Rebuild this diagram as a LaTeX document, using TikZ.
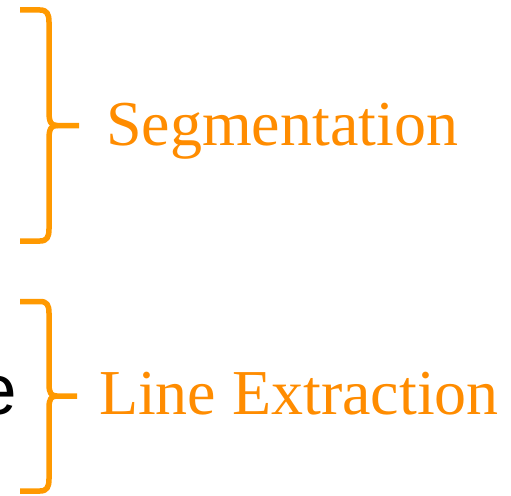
\documentclass[tikz,border=0pt]{standalone}
\usepackage{fontspec}
\setmainfont{Liberation Serif}
\newfontfamily\arialfont{Liberation Sans}
\definecolor{braceorange}{HTML}{FF9900}
\definecolor{textorange}{HTML}{FF8C00}
\begin{document}
\begin{tikzpicture}[x=1pt,y=-1pt,
  bracestroke/.style={draw=braceorange,line width=5.5pt,line join=round,line cap=butt},
  lbl/.style={inner sep=0pt,outer sep=0pt,text=textorange,font=\fontsize{64}{64}\selectfont,anchor=base west}]
\useasboundingbox (0,0) rectangle (511,495);
% upper brace
\draw[bracestroke] (20,10) -- (40,10) .. controls (47,10) and (49,14) .. (49,22)
  -- (49,112) .. controls (49,122) and (51,125.5) .. (57,125.5) -- (79,125.5);
\draw[bracestroke] (57,125.5) .. controls (51,125.5) and (49,129) .. (49,139)
  -- (49,229) .. controls (49,237) and (47,241) .. (40,241) -- (20,241);
% lower brace
\draw[bracestroke] (20,301.5) -- (40,301.5) .. controls (47,301.5) and (49,305) .. (49,313)
  -- (49,384) .. controls (49,393) and (51,396) .. (57,396) -- (77,396);
\draw[bracestroke] (57,396) .. controls (51,396) and (49,399) .. (49,408)
  -- (49,479) .. controls (49,487) and (47,491) .. (40,491) -- (20,491);
\node[lbl] (seg) at (106,145) {Segmentation};
\node[lbl] (line) at (99,414) {Line Extraction};
\node[inner sep=0pt,outer sep=0pt,anchor=base east,font=\arialfont\fontsize{71}{71}\selectfont] (e) at (17,414) {e};
\end{tikzpicture}
\end{document}
